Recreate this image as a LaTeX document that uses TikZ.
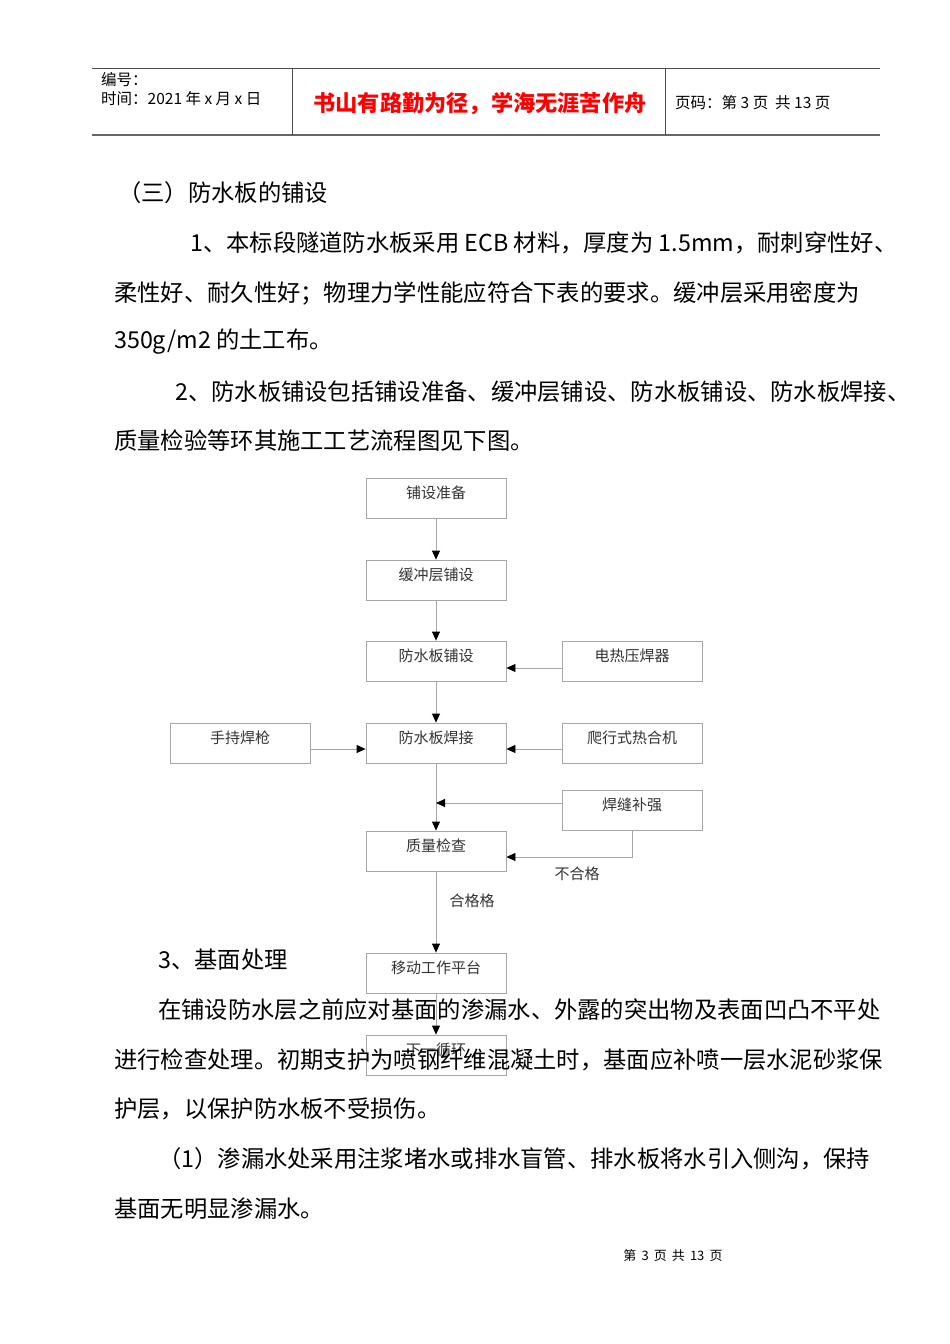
\documentclass[tikz,border=0pt]{standalone}
\usepackage{fontspec}
\setmainfont{Noto Sans CJK SC}
\usetikzlibrary{arrows.meta}
\begin{document}
\begin{tikzpicture}[x=1pt,y=-1pt,
  bx/.style={draw=black!35,line width=0.8pt,minimum width=140pt,minimum height=40pt,inner sep=0pt},
  bl/.style={font=\fontsize{15}{15}\selectfont,text=black!80},
  ln/.style={draw=black!35,line width=0.8pt},
  ar/.style={ln,-{Triangle[length=9pt,width=8pt,fill=black,color=black]}},
  bt/.style={anchor=west,inner sep=0pt,font=\fontsize{23.3}{23.3}\selectfont},
  ht/.style={anchor=west,inner sep=0pt,font=\fontsize{15.5}{15.5}\selectfont}]
\useasboundingbox (0,0) rectangle (950,1344);
% header
\draw[black!70,line width=0.8pt] (92,68) -- (880,68);
\draw[black!60,line width=1.5pt] (92,135) -- (880,135);
\draw[black!70,line width=0.8pt] (292,68) -- (292,135) (665,68) -- (665,135);
\node[ht] (h1) at (101,80) {编号：};
\node[ht] (h2) at (101,99) {时间：2021 年 x 月 x 日};
\node[inner sep=0pt,text=red,font=\fontsize{22.2}{22.2}\selectfont\bfseries] (h3) at (480,104) {书山有路勤为径，学海无涯苦作舟};
\node[ht] (h4) at (675,103) {页码：第 3 页 \ 共 13 页};
% body text
\node[bt] (t1) at (118,193) {（三）防水板的铺设};
\node[bt] (t2) at (190,243) {1、本标段隧道防水板采用 ECB 材料，厚度为 1.5mm，耐刺穿性好、};
\node[bt] (t3) at (114,293) {柔性好、耐久性好；物理力学性能应符合下表的要求。缓冲层采用密度为};
\node[bt] (t4) at (114,342) {350g/m2 的土工布。};
\node[bt] (t5) at (175,392) {2、防水板铺设包括铺设准备、缓冲层铺设、防水板铺设、防水板焊接、};
\node[bt] (t6) at (114,441) {质量检验等环其施工工艺流程图见下图。};
% flowchart
\node[bx] (b1) at (436,498) {}; \node[bl] at (436,493) {铺设准备};
\node[bx] (b2) at (436,580) {}; \node[bl] at (436,575) {缓冲层铺设};
\node[bx] (b3) at (436,661) {}; \node[bl] at (436,656) {防水板铺设};
\node[bx] (b4) at (436,743) {}; \node[bl] at (436,738) {防水板焊接};
\node[bx] (b5) at (436,851) {}; \node[bl] at (436,846) {质量检查};
\node[bx] (b6) at (436,973) {}; \node[bl] at (436,968) {移动工作平台};
\node[bx] (b7) at (436,1055) {}; \node[bl] at (436,1050) {下一循环};
\node[bx] (r1) at (632,661) {}; \node[bl] at (632,656) {电热压焊器};
\node[bx] (r2) at (632,743) {}; \node[bl] at (632,738) {爬行式热合机};
\node[bx] (r3) at (632,810) {}; \node[bl] at (632,805) {焊缝补强};
\node[bx] (l1) at (240,743) {}; \node[bl] at (240,738) {手持焊枪};
\draw[ar] (b1) -- (b2);
\draw[ar] (b2) -- (b3);
\draw[ar] (b3) -- (b4);
\draw[ar] (b4) -- (b5);
\draw[ar] (b5) -- (b6);
\draw[ar] (b6) -- (b7);
\draw[ar] (r1.west|-436,668) -- (b3.east|-436,668);
\draw[ar] (r2.west|-436,749) -- (b4.east|-436,749);
\draw[ar] (l1.east|-436,749) -- (b4.west|-436,749);
\coordinate (m1) at (436,803);
\draw[ar] (r3.west|-m1) -- (m1);
\coordinate (c1) at (632,857);
\draw[ar] (r3.south) -- (c1) -- (b5.east|-c1);
\node[bl] (n1) at (577,874) {不合格};
\node[bl] (n2) at (472,901) {合格格};
% body text after
\node[bt] (t7) at (158,960) {3、基面处理};
\node[bt] (t8) at (158,1010) {在铺设防水层之前应对基面的渗漏水、外露的突出物及表面凹凸不平处};
\node[bt] (t9) at (114,1060) {进行检查处理。初期支护为喷钢纤维混凝土时，基面应补喷一层水泥砂浆保};
\node[bt] (t10) at (114,1109) {护层，以保护防水板不受损伤。};
\node[bt] (t11) at (158,1159) {（1）渗漏水处采用注浆堵水或排水盲管、排水板将水引入侧沟，保持};
\node[bt] (t12) at (114,1209) {基面无明显渗漏水。};
\node[inner sep=0pt,font=\fontsize{13}{13}\selectfont] (ft) at (673,1256) {第 \,3\, 页 \,共 \,13\, 页};
\end{tikzpicture}
\end{document}
